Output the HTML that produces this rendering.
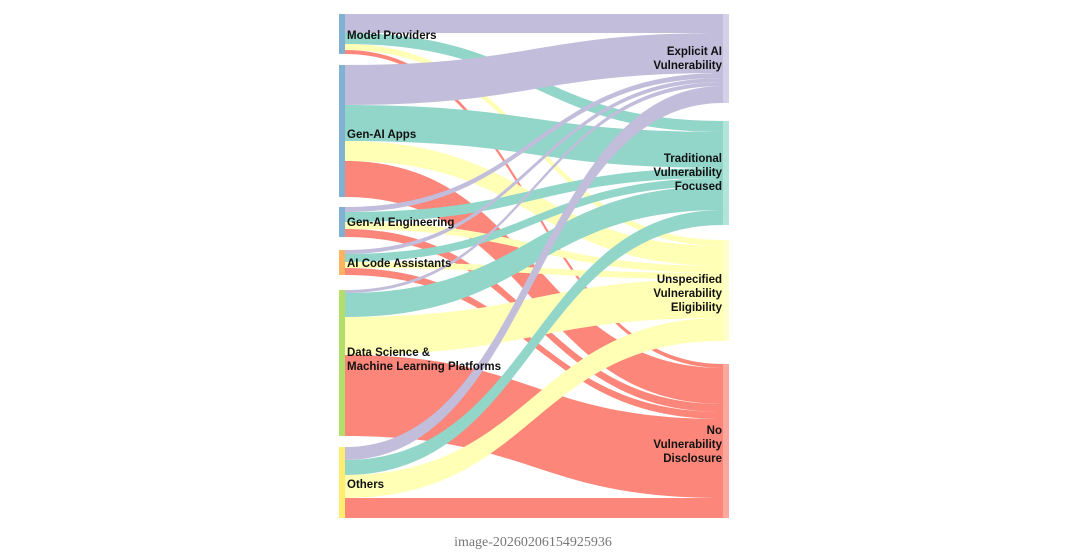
<!DOCTYPE html>
<html><head><meta charset="utf-8"><style>
html,body{margin:0;padding:0;background:#fff;width:1080px;height:558px;overflow:hidden}
svg{display:block}
.l{font-family:"Liberation Sans",sans-serif;font-size:11.5px;font-weight:bold;fill:#111}
</style></head><body>
<svg width="1080" height="558" viewBox="0 0 1080 558">
<g opacity="0.95">
<path d="M345,14 C534,14 534,14 723,14 L723,33 C534,33 534,33 345,33 Z" fill="#bebada"/>
<path d="M345,33 C534,33 534,121 723,121 L723,132 C534,132 534,44 345,44 Z" fill="#8dd3c7"/>
<path d="M345,44 C534,44 534,240 723,240 L723,246 C534,246 534,50 345,50 Z" fill="#ffffb3"/>
<path d="M345,50 C534,50 534,364 723,364 L723,368 C534,368 534,54 345,54 Z" fill="#fb8072"/>
<path d="M345,65 C534,65 534,33 723,33 L723,73 C534,73 534,105 345,105 Z" fill="#bebada"/>
<path d="M345,105 C534,105 534,132 723,132 L723,168 C534,168 534,141 345,141 Z" fill="#8dd3c7"/>
<path d="M345,141 C534,141 534,246 723,246 L723,266 C534,266 534,161 345,161 Z" fill="#ffffb3"/>
<path d="M345,161 C534,161 534,368 723,368 L723,404 C534,404 534,197 345,197 Z" fill="#fb8072"/>
<path d="M345,207 C534,207 534,73 723,73 L723,78 C534,78 534,212 345,212 Z" fill="#bebada"/>
<path d="M345,212 C534,212 534,168 723,168 L723,178 C534,178 534,222 345,222 Z" fill="#8dd3c7"/>
<path d="M345,222 C534,222 534,266 723,266 L723,273 C534,273 534,229 345,229 Z" fill="#ffffb3"/>
<path d="M345,229 C534,229 534,404 723,404 L723,412 C534,412 534,237 345,237 Z" fill="#fb8072"/>
<path d="M345,250 C534,250 534,78 723,78 L723,82 C534,82 534,254 345,254 Z" fill="#bebada"/>
<path d="M345,254 C534,254 534,178 723,178 L723,186 C534,186 534,262 345,262 Z" fill="#8dd3c7"/>
<path d="M345,262 C534,262 534,273 723,273 L723,279 C534,279 534,268 345,268 Z" fill="#ffffb3"/>
<path d="M345,268 C534,268 534,412 723,412 L723,419 C534,419 534,275 345,275 Z" fill="#fb8072"/>
<path d="M345,290 C534,290 534,82 723,82 L723,86 C534,86 534,293 345,293 Z" fill="#bebada"/>
<path d="M345,293 C534,293 534,186 723,186 L723,210 C534,210 534,317 345,317 Z" fill="#8dd3c7"/>
<path d="M345,317 C534,317 534,279 723,279 L723,318 C534,318 534,355 345,355 Z" fill="#ffffb3"/>
<path d="M345,355 C534,355 534,419 723,419 L723,498 C534,498 534,436 345,436 Z" fill="#fb8072"/>
<path d="M345,447 C534,447 534,86 723,86 L723,103 C534,103 534,460 345,460 Z" fill="#bebada"/>
<path d="M345,460 C534,460 534,210 723,210 L723,225 C534,225 534,475 345,475 Z" fill="#8dd3c7"/>
<path d="M345,475 C534,475 534,318 723,318 L723,341 C534,341 534,498 345,498 Z" fill="#ffffb3"/>
<path d="M345,498 C534,498 534,498 723,498 L723,518 C534,518 534,518 345,518 Z" fill="#fb8072"/>
</g>
<rect x="339" y="14" width="6" height="40" fill="#80b1d3"/>
<rect x="339" y="65" width="6" height="132" fill="#80b1d3"/>
<rect x="339" y="207" width="6" height="30" fill="#80b1d3"/>
<rect x="339" y="250" width="6" height="25" fill="#fdb462"/>
<rect x="339" y="290" width="6" height="146" fill="#b3de69"/>
<rect x="339" y="447" width="6" height="71" fill="#ffed6f"/>
<rect x="723" y="14" width="6" height="89" fill="#d4d0e8"/>
<rect x="723" y="121" width="6" height="104" fill="#b3e4db"/>
<rect x="723" y="240" width="6" height="101" fill="#ffffcc"/>
<rect x="723" y="364" width="6" height="154" fill="#fca79e"/>
<text class="l" x="347" y="39">Model Providers</text>
<text class="l" x="347" y="138">Gen-AI Apps</text>
<text class="l" x="347" y="226">Gen-AI Engineering</text>
<text class="l" x="347" y="267">AI Code Assistants</text>
<text class="l" x="347" y="356">Data Science &amp;</text>
<text class="l" x="347" y="370">Machine Learning Platforms</text>
<text class="l" x="347" y="488">Others</text>
<g text-anchor="end">
<text class="l" x="722" y="55">Explicit AI</text>
<text class="l" x="722" y="69">Vulnerability</text>
<text class="l" x="722" y="162">Traditional</text>
<text class="l" x="722" y="176">Vulnerability</text>
<text class="l" x="722" y="190">Focused</text>
<text class="l" x="722" y="283">Unspecified</text>
<text class="l" x="722" y="297">Vulnerability</text>
<text class="l" x="722" y="311">Eligibility</text>
<text class="l" x="722" y="434">No</text>
<text class="l" x="722" y="448">Vulnerability</text>
<text class="l" x="722" y="462">Disclosure</text>
</g>
<text x="533" y="546" text-anchor="middle" font-family="Liberation Serif,serif" font-size="14" fill="#777">image-20260206154925936</text>
</svg>
</body></html>
